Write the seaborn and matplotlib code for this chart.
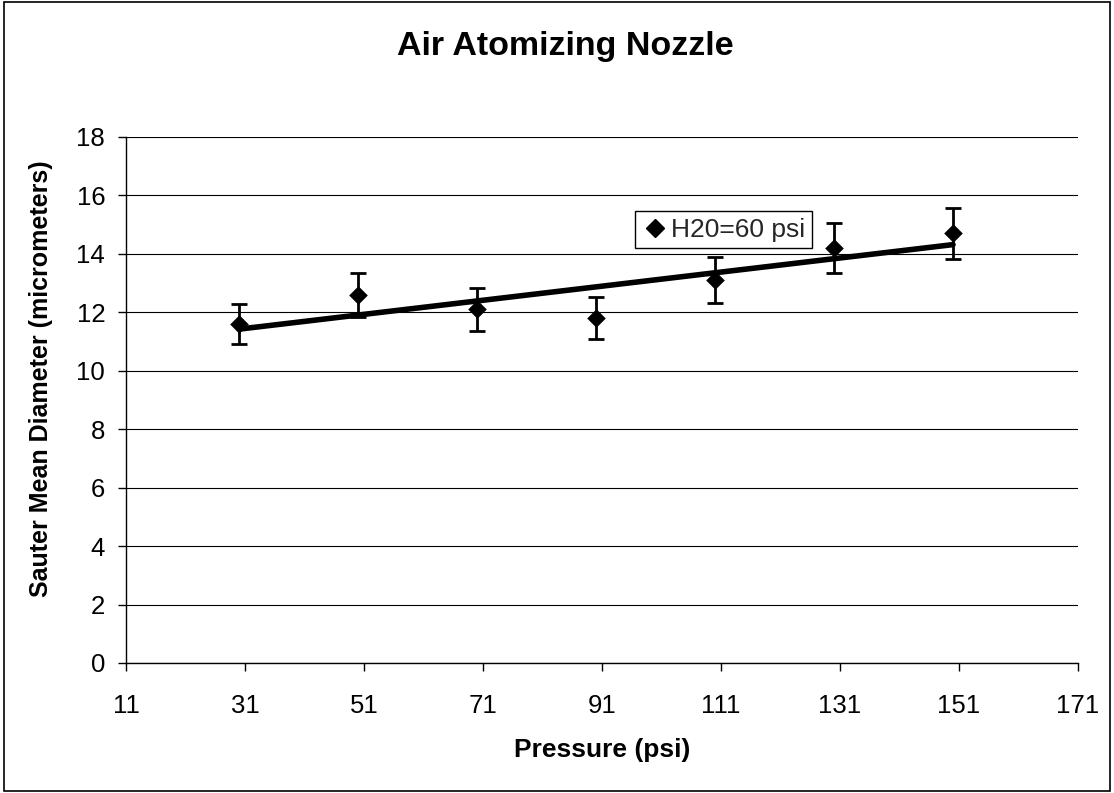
import matplotlib
matplotlib.use("Agg")
import matplotlib.pyplot as plt
import seaborn as sns
import pandas as pd
from matplotlib.lines import Line2D
from matplotlib.patches import Rectangle

# ---- data ----
pressure = [30, 50, 70, 90, 110, 130, 150]
smd = [11.6, 12.6, 12.1, 11.8, 13.1, 14.2, 14.7]
smd_err = [0.70, 0.76, 0.73, 0.71, 0.79, 0.85, 0.88]
x_ticks = [11, 31, 51, 71, 91, 111, 131, 151, 171]
y_ticks = [0, 2, 4, 6, 8, 10, 12, 14, 16, 18]
series_label = "H20=60 psi"
title_text = "Air Atomizing Nozzle"
x_label = "Pressure (psi)"
y_label = "Sauter Mean Diameter (micrometers)"

df = pd.DataFrame({"pressure": pressure, "smd": smd, "err": smd_err})

sns.set_theme(style="white")
plt.rcParams["font.family"] = ["Liberation Sans", "DejaVu Sans"]

W, H = 1114, 793
fig = plt.figure(figsize=(W / 100, H / 100), dpi=100)
ax = fig.add_axes([126 / W, 1 - 663 / H, 952 / W, 526 / H])

ax.set_xlim(x_ticks[0], x_ticks[-1])
ax.set_ylim(y_ticks[0], y_ticks[-1])
ax.set_xticks(x_ticks)
ax.set_yticks(y_ticks)

ax.yaxis.grid(True, color="black", lw=0.8)
ax.xaxis.grid(False)
ax.set_axisbelow(True)

ax.errorbar(df["pressure"], df["smd"], yerr=df["err"], fmt="none",
            ecolor="black", elinewidth=2.0, capsize=6.0, capthick=2.0, zorder=3)
sns.regplot(data=df, x="pressure", y="smd", scatter=False, ci=None, truncate=True,
            line_kws=dict(color="black", lw=4.0, zorder=4), ax=ax)
sns.scatterplot(data=df, x="pressure", y="smd", marker="D", s=90, color="black",
                edgecolor="black", linewidth=0, ax=ax, zorder=5, legend=False)

ax.set_xlim(x_ticks[0], x_ticks[-1])
ax.set_ylim(y_ticks[0], y_ticks[-1])

for side in ["top", "right"]:
    ax.spines[side].set_visible(False)
for side in ["left", "bottom"]:
    ax.spines[side].set_color("black")
    ax.spines[side].set_linewidth(1.0)

ax.tick_params(axis="both", which="major", direction="out", length=6, width=1,
               color="black", labelsize=18.5, labelcolor="black")
ax.tick_params(axis="x", pad=16, bottom=True)
ax.tick_params(axis="y", pad=9, left=True)

ax.set_xlabel(x_label, fontsize=19, fontweight="bold", color="black")
ax.xaxis.set_label_coords(0.5, -0.142)
ax.set_ylabel(y_label, fontsize=18, fontweight="bold", color="black")
ax.yaxis.set_label_coords(-0.077, 0.54)

handle = Line2D([], [], marker="D", color="black", ls="none", markersize=9)
leg = ax.legend(handles=[handle], labels=[series_label], loc="upper left",
                bbox_to_anchor=(0.535, 0.859), frameon=True, fancybox=False,
                edgecolor="black", framealpha=1, fontsize=19, borderpad=0.25,
                handletextpad=0.1, handlelength=1.0, borderaxespad=0)
leg.get_frame().set_linewidth(1.0)

fig.text(565 / W, 1 - 47 / H, title_text, ha="center", va="center",
         fontsize=24.5, fontweight="bold", color="black")

fig.patches.append(Rectangle((4 / W, 2 / H), 1106 / W, 789 / H,
                             transform=fig.transFigure, fill=False,
                             ec="black", lw=1.2))

fig.savefig("out.png", dpi=100)
